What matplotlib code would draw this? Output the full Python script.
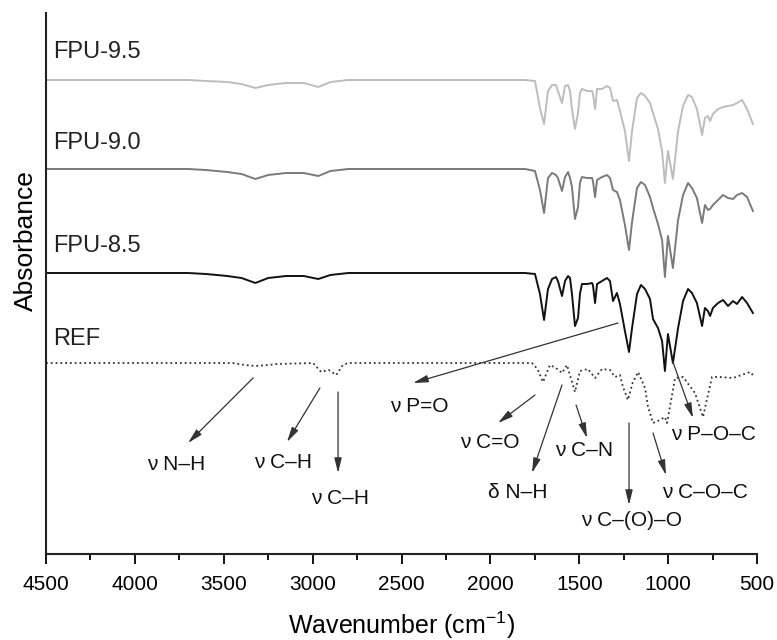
import matplotlib
matplotlib.use("Agg")
import matplotlib.pyplot as plt
from matplotlib.ticker import MultipleLocator, NullLocator

plt.rcParams["font.family"] = ["Liberation Sans", "DejaVu Sans"]
plt.rcParams["mathtext.fontset"] = "custom"
plt.rcParams["mathtext.rm"] = "Liberation Sans"

# --- Данные (отн. поглощение, базовая линия = 0) ---
# Общая сетка волновых чисел для трёх образцов FPU
wn_fpu = [4500, 3700, 3600, 3480, 3400, 3322, 3250, 3150, 3050, 2968, 2900, 2800,
          2200, 1805, 1749, 1721, 1698, 1676, 1653, 1631, 1620, 1597, 1580,
          1563, 1552, 1541, 1524, 1507, 1496, 1485, 1456, 1428, 1423, 1411,
          1400, 1372, 1344, 1327, 1310, 1288, 1271, 1243, 1220, 1203, 1175,
          1153, 1130, 1102, 1085, 1057, 1034, 1018, 1001, 973, 944, 916, 888,
          866, 838, 809, 793, 776, 764, 748, 719, 691, 663, 635, 613, 584, 556,
          523]

abs_fpu95 = [0, 0, -1, -2, -4, -8, -5, -3, -3, -7, -2, 0,
             0, 0, -1, -28, -44, -11, -5, -5, -11, -23, -6,
             -5, -11, -29, -49, -33, -13, -9, -11, -11, -14, -29,
             -9, -9, -6, -8, -21, -20, -31, -51, -81, -51, -18,
             -13, -16, -23, -33, -49, -71, -103, -71, -99, -51, -26, -15,
             -17, -29, -55, -38, -36, -41, -34, -29, -27, -26, -25, -23, -20, -29,
             -44]

abs_fpu90 = [0, 0, -1, -3, -5, -10, -6, -4, -4, -7, -2, 0,
             0, 0, -2, -21, -44, -9, -4, -6, -9, -22, -8,
             -3, -9, -18, -50, -38, -14, -8, -9, -9, -12, -28,
             -11, -8, -6, -9, -21, -23, -31, -56, -81, -53, -19,
             -13, -16, -28, -39, -55, -71, -108, -67, -99, -51, -26, -14,
             -19, -29, -54, -36, -41, -40, -36, -31, -26, -29, -30, -26, -24, -28,
             -42]

abs_fpu85 = [0, 0, -1, -3, -5, -10, -5, -3, -3, -6, -2, 0,
             0, 0, -1, -21, -47, -16, -6, -4, -8, -23, -8,
             -3, -5, -21, -53, -45, -21, -11, -11, -10, -12, -30,
             -11, -8, -5, -8, -28, -20, -31, -58, -79, -55, -21,
             -12, -16, -26, -46, -55, -68, -98, -61, -90, -55, -28, -16,
             -20, -30, -53, -35, -38, -43, -35, -30, -27, -33, -28, -31, -24, -30,
             -40]

# Эталон (REF) — своя сетка
wn_ref = [4500, 3450, 3380, 3322, 3250, 3200, 2997, 2952, 2910, 2867, 2830, 2800,
          2200, 1766, 1735, 1704, 1665, 1631, 1597, 1569, 1524, 1496, 1451,
          1411, 1372, 1327, 1299, 1271, 1254, 1226, 1200, 1169, 1130, 1113,
          1085, 1046, 1018, 1006, 961, 916, 849, 804, 753, 708, 635, 539, 523]
abs_ref = [0, 0, -2, -3, -2, -1, 0, -9, -7, -12, -2, 0,
           0, 0, -6, -19, -2, -5, -10, -2, -29, -8, -6,
           -15, -6, -7, -14, -12, -24, -37, -20, -9, -25, -44,
           -60, -57, -54, -60, -15, -14, -30, -54, -14, -14, -15, -9, -12]

labels = ["FPU-9.5", "FPU-9.0", "FPU-8.5", "REF"]

# Отнесения полос: (подпись, позиция подписи, начало стрелки, конец стрелки)
bands = [
    ("ν N–H", (3769, 89), (3335, 176), (3701, 111)),
    ("ν C–H", (3167, 92), (2959, 166), (3144, 112)),
    ("ν C–H", (2846, 56), (2857, 162), (2857, 81)),
    ("ν P=O", (2402, 147), (1282, 231), (2435, 171)),
    ("ν C=O", (2002, 111), (1749, 159), (1957, 131)),
    ("δ N–H", (1845, 62), (1597, 169), (1766, 81)),
    ("ν C–N", (1473, 104), (1518, 149), (1456, 116)),
    ("ν C–(O)–O", (1203, 34), (1220, 131), (1220, 49)),
    ("ν C–O–C", (793, 62), (1085, 121), (1012, 79)),
    ("ν P–O–C", (742, 119), (973, 192), (860, 136)),
]

# --- Оформление ---
offsets = [474, 385, 281, 191]
label_y = [502, 411, 308, 215]
styles = [
    dict(color="#bdbdbd", lw=1.4, ls="-"),
    dict(color="#7a7a7a", lw=1.4, ls="-"),
    dict(color="#111111", lw=1.4, ls="-"),
    dict(color="#333333", lw=1.3, ls=":"),
]

fig = plt.figure(figsize=(7.77, 6.4), dpi=100)
ax = fig.add_axes([46 / 777, 86 / 640, 711 / 777, 541 / 640])

series = [(wn_fpu, abs_fpu95), (wn_fpu, abs_fpu90), (wn_fpu, abs_fpu85), (wn_ref, abs_ref)]
for (wn, ab), off, st, name, ly in zip(series, offsets, styles, labels, label_y):
    ax.plot(wn, [v + off for v in ab], **st)
    ax.text(4460, ly, name, fontsize=17, ha="left", va="center", color="#222222")

for text, txy, start, end in bands:
    ax.annotate("", xy=end, xytext=start,
                arrowprops=dict(arrowstyle="-|>,head_length=0.9,head_width=0.22",
                                color="#333333", lw=0.9, shrinkA=0, shrinkB=0))
    ax.text(*txy, text, fontsize=15, ha="center", va="center", color="#111111")

ax.set_xlim(4500, 500)
ax.set_ylim(0, 541)
ax.xaxis.set_major_locator(MultipleLocator(500))
ax.xaxis.set_minor_locator(MultipleLocator(250))
ax.yaxis.set_major_locator(NullLocator())
ax.tick_params(axis="x", which="major", length=7, width=1.3, labelsize=15, pad=8)
ax.tick_params(axis="x", which="minor", length=4, width=1.3)
for side in ("top", "right"):
    ax.spines[side].set_visible(False)
for side in ("left", "bottom"):
    ax.spines[side].set_linewidth(1.5)
    ax.spines[side].set_color("#222222")

ax.set_xlabel("Wavenumber (cm$^{\\mathrm{-1}}$)", fontsize=18)
ax.xaxis.set_label_coords(0.5, -0.102)
ax.set_ylabel("Absorbance", fontsize=19)
ax.yaxis.set_label_coords(-0.012, 0.58)

fig.savefig("out.png", dpi=100)
